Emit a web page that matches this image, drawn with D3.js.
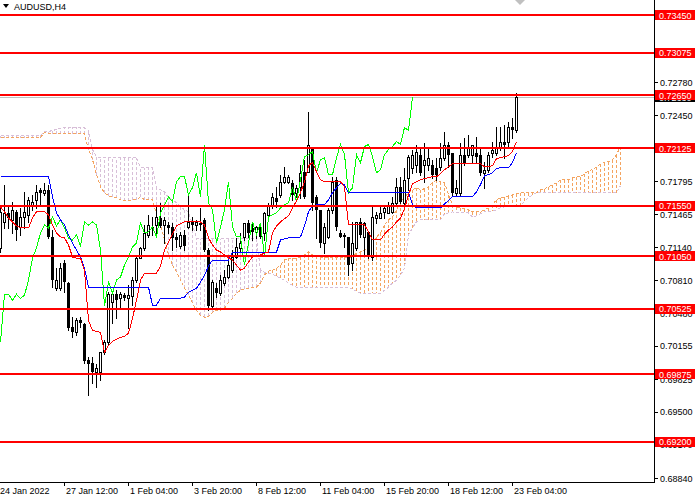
<!DOCTYPE html>
<html>
<head>
<meta charset="utf-8">
<script src="https://cdn.jsdelivr.net/npm/d3@7"></script>
<style>
  body { margin: 0; background: #fff; }
  svg { display: block; font-family: "Liberation Sans", Arial, sans-serif; }
</style>
</head>
<body>
<svg id="chart" width="700" height="500"></svg>
<script>
// AUDUSD H4 candles (one bar every 4 hours)
const opens = [0.7113,0.7139,0.7148,0.7141,0.7149,0.7134,0.7144,0.7146,0.7156,0.7161,
  0.7171,0.7168,0.7171,0.7124,0.7073,0.7073,0.7098,0.7078,0.7034,0.7029,
  0.7041,0.7037,0.7001,0.6999,0.6990,0.6990,0.7009,0.7019,0.7059,0.7067,
  0.7063,0.7066,0.7063,0.7065,0.7081,0.7103,0.7113,0.7126,0.7134,0.7136,
  0.7143,0.7136,0.7136,0.7134,0.7124,0.7115,0.7126,0.7134,0.7139,0.7136,
  0.7138,0.7141,0.7111,0.7055,0.7073,0.7068,0.7078,0.7084,0.7091,0.7104,
  0.7113,0.7124,0.7138,0.7133,0.7129,0.7134,0.7128,0.7146,0.7156,0.7163,
  0.7166,0.7179,0.7179,0.7178,0.7168,0.7174,0.7189,0.7189,0.7214,0.7164,
  0.7151,0.7118,0.7124,0.7151,0.7181,0.7128,0.7126,0.7124,0.7098,0.7113,
  0.7139,0.7124,0.7129,0.7104,0.7143,0.7143,0.7149,0.7148,0.7149,0.7158,
  0.7174,0.7158,0.7183,0.7193,0.7196,0.7206,0.7196,0.7196,0.7196,0.7193,
  0.7194,0.7203,0.7216,0.7208,0.7168,0.7168,0.7206,0.7206,0.7206,0.7208,
  0.7206,0.7188,0.7191,0.7208,0.7208,0.7214,0.7219,0.7219,0.7233,0.7230];
const highs = [0.7156,0.7176,0.7154,0.7159,0.7151,0.7153,0.7169,0.7164,0.7166,0.7176,
  0.7173,0.7178,0.7176,0.7131,0.7093,0.7098,0.7101,0.7079,0.7044,0.7043,
  0.7044,0.7038,0.7004,0.7004,0.6998,0.7009,0.7021,0.7069,0.7069,0.7071,
  0.7069,0.7068,0.7076,0.7084,0.7104,0.7114,0.7136,0.7146,0.7144,0.7154,
  0.7158,0.7144,0.7139,0.7138,0.7128,0.7129,0.7131,0.7168,0.7144,0.7141,
  0.7153,0.7143,0.7113,0.7081,0.7078,0.7086,0.7091,0.7103,0.7111,0.7123,
  0.7128,0.7138,0.7141,0.7139,0.7135,0.7136,0.7149,0.7158,0.7168,0.7174,
  0.7186,0.7194,0.7186,0.7181,0.7176,0.7196,0.7201,0.7248,0.7214,0.7166,
  0.7151,0.7138,0.7153,0.7184,0.7184,0.7131,0.7128,0.7124,0.7139,0.7139,
  0.7143,0.7139,0.7129,0.7154,0.7149,0.7156,0.7156,0.7159,0.7164,0.7183,
  0.7184,0.7193,0.7206,0.7211,0.7216,0.7214,0.7218,0.7214,0.7201,0.7203,
  0.7218,0.7229,0.7219,0.7208,0.7181,0.7218,0.7223,0.7226,0.7216,0.7224,
  0.7213,0.7199,0.7209,0.7219,0.7233,0.7233,0.7235,0.7238,0.7242,0.7267];
const lows = [0.7109,0.7133,0.7133,0.7128,0.7121,0.7126,0.7133,0.7139,0.7151,0.7153,
  0.7156,0.7166,0.7123,0.7074,0.7071,0.7071,0.7069,0.7031,0.7024,0.7026,
  0.7034,0.6999,0.6967,0.6979,0.6975,0.6982,0.7007,0.7017,0.7038,0.7043,
  0.7054,0.7061,0.7033,0.7056,0.7079,0.7103,0.7111,0.7124,0.7126,0.7124,
  0.7134,0.7118,0.7128,0.7111,0.7114,0.7113,0.7111,0.7133,0.7131,0.7131,
  0.7131,0.7110,0.7051,0.7053,0.7064,0.7066,0.7076,0.7083,0.7089,0.7103,
  0.7109,0.7121,0.7124,0.7121,0.7123,0.7123,0.7121,0.7143,0.7153,0.7154,
  0.7164,0.7178,0.7178,0.7161,0.7164,0.7163,0.7163,0.7189,0.7151,0.7123,
  0.7114,0.7108,0.7123,0.7148,0.7131,0.7124,0.7114,0.7086,0.7091,0.7111,
  0.7124,0.7106,0.7103,0.7101,0.7138,0.7143,0.7143,0.7148,0.7148,0.7156,
  0.7158,0.7156,0.7171,0.7188,0.7189,0.7186,0.7179,0.7191,0.7183,0.7181,
  0.7191,0.7201,0.7194,0.7166,0.7166,0.7166,0.7196,0.7204,0.7198,0.7199,
  0.7186,0.7173,0.7189,0.7204,0.7206,0.7211,0.7203,0.7214,0.7223,0.7229];
const closes = [0.7149,0.7148,0.7143,0.7151,0.7131,0.7144,0.7149,0.7161,0.7159,0.7169,
  0.7168,0.7171,0.7124,0.7081,0.7081,0.7093,0.7079,0.7033,0.7029,0.7041,
  0.7038,0.7000,0.6998,0.6990,0.6994,0.7009,0.7019,0.7067,0.7067,0.7061,
  0.7067,0.7063,0.7066,0.7081,0.7103,0.7113,0.7128,0.7136,0.7133,0.7144,
  0.7135,0.7141,0.7133,0.7123,0.7121,0.7126,0.7115,0.7139,0.7136,0.7139,
  0.7136,0.7111,0.7055,0.7079,0.7068,0.7081,0.7084,0.7096,0.7104,0.7114,
  0.7118,0.7138,0.7128,0.7129,0.7134,0.7124,0.7148,0.7156,0.7164,0.7159,
  0.7179,0.7184,0.7184,0.7166,0.7173,0.7188,0.7164,0.7216,0.7158,0.7151,
  0.7118,0.7134,0.7151,0.7179,0.7134,0.7124,0.7124,0.7096,0.7118,0.7139,
  0.7126,0.7138,0.7104,0.7144,0.7146,0.7148,0.7153,0.7156,0.7158,0.7174,
  0.7159,0.7181,0.7204,0.7206,0.7209,0.7188,0.7201,0.7203,0.7186,0.7186,
  0.7203,0.7216,0.7206,0.7168,0.7173,0.7206,0.7198,0.7214,0.7216,0.7204,
  0.7188,0.7191,0.7206,0.7211,0.7214,0.7219,0.7216,0.7233,0.7230,0.7263];

// Ichimoku lines, one value per bar
const tenkan = [0.7154,0.7149,0.7143,0.7139,0.7135,0.7133,0.7133,0.7133,0.7143,0.7149,
  0.7149,0.7149,0.7146,0.7136,0.7128,0.7124,0.7123,0.7116,0.7104,0.7103,
  0.7103,0.7091,0.7041,0.7031,0.7030,0.7029,0.7009,0.7016,0.7020,0.7022,
  0.7024,0.7025,0.7028,0.7043,0.7061,0.7081,0.7088,0.7088,0.7088,0.7088,
  0.7095,0.7111,0.7119,0.7127,0.7135,0.7137,0.7139,0.7139,0.7139,0.7139,
  0.7139,0.7136,0.7123,0.7116,0.7111,0.7109,0.7106,0.7103,0.7101,0.7096,
  0.7091,0.7093,0.7099,0.7104,0.7105,0.7106,0.7108,0.7109,0.7128,0.7135,
  0.7139,0.7142,0.7145,0.7153,0.7160,0.7168,0.7179,0.7195,0.7198,0.7189,
  0.7181,0.7179,0.7179,0.7179,0.7179,0.7179,0.7174,0.7136,0.7136,0.7136,
  0.7136,0.7136,0.7129,0.7121,0.7121,0.7121,0.7127,0.7131,0.7134,0.7139,
  0.7143,0.7152,0.7166,0.7177,0.7179,0.7181,0.7182,0.7183,0.7184,0.7184,
  0.7187,0.7191,0.7194,0.7197,0.7197,0.7197,0.7197,0.7197,0.7197,0.7197,
  0.7197,0.7194,0.7194,0.7195,0.7202,0.7203,0.7204,0.7205,0.7209,0.7219];
const kijun = [0.7184,0.7184,0.7184,0.7184,0.7184,0.7184,0.7184,0.7184,0.7184,0.7184,
  0.7184,0.7184,0.7184,0.7164,0.7148,0.7141,0.7136,0.7126,0.7118,0.7111,
  0.7104,0.7093,0.7074,0.7074,0.7074,0.7074,0.7074,0.7074,0.7074,0.7074,
  0.7074,0.7074,0.7074,0.7074,0.7074,0.7074,0.7074,0.7074,0.7056,0.7056,
  0.7063,0.7063,0.7063,0.7063,0.7063,0.7063,0.7064,0.7069,0.7071,0.7073,
  0.7079,0.7086,0.7095,0.7101,0.7101,0.7101,0.7101,0.7101,0.7109,0.7109,
  0.7109,0.7109,0.7109,0.7109,0.7109,0.7109,0.7109,0.7109,0.7109,0.7109,
  0.7121,0.7122,0.7123,0.7123,0.7123,0.7124,0.7135,0.7149,0.7155,0.7156,
  0.7156,0.7156,0.7161,0.7168,0.7173,0.7177,0.7176,0.7168,0.7168,0.7168,
  0.7168,0.7168,0.7168,0.7168,0.7168,0.7168,0.7168,0.7168,0.7168,0.7168,
  0.7168,0.7168,0.7168,0.7156,0.7153,0.7153,0.7153,0.7153,0.7153,0.7153,
  0.7153,0.7157,0.7160,0.7164,0.7164,0.7164,0.7164,0.7164,0.7164,0.7169,
  0.7176,0.7185,0.7186,0.7188,0.7192,0.7193,0.7193,0.7193,0.7198,0.7208];
// Senkou spans, plotted 26 bars ahead (156 positions)
const spanA = [0.7223,0.7223,0.7223,0.7223,0.7223,0.7223,0.7223,0.7223,0.7223,0.7223,
  0.7223,0.7228,0.7227,0.7227,0.7227,0.7227,0.7227,0.7227,0.7227,0.7227,
  0.7227,0.7227,0.7211,0.7201,0.7186,0.7174,0.7168,0.7165,0.7164,0.7163,
  0.7161,0.7160,0.7160,0.7161,0.7161,0.7164,0.7161,0.7161,0.7161,0.7146,
  0.7136,0.7121,0.7106,0.7096,0.7089,0.7081,0.7073,0.7066,0.7058,0.7051,
  0.7046,0.7044,0.7045,0.7049,0.7051,0.7051,0.7053,0.7059,0.7063,0.7068,
  0.7071,0.7072,0.7073,0.7074,0.7074,0.7078,0.7086,0.7090,0.7091,0.7093,
  0.7096,0.7101,0.7103,0.7103,0.7103,0.7104,0.7106,0.7109,0.7106,0.7105,
  0.7104,0.7104,0.7104,0.7104,0.7104,0.7104,0.7104,0.7104,0.7104,0.7108,
  0.7109,0.7111,0.7113,0.7119,0.7124,0.7128,0.7136,0.7141,0.7144,0.7151,
  0.7158,0.7163,0.7168,0.7171,0.7173,0.7171,0.7172,0.7174,0.7178,0.7181,
  0.7179,0.7178,0.7166,0.7156,0.7154,0.7153,0.7152,0.7151,0.7149,0.7149,
  0.7149,0.7151,0.7153,0.7156,0.7161,0.7163,0.7164,0.7165,0.7166,0.7167,
  0.7168,0.7168,0.7168,0.7168,0.7168,0.7171,0.7172,0.7174,0.7176,0.7178,
  0.7181,0.7181,0.7181,0.7183,0.7184,0.7184,0.7187,0.7190,0.7191,0.7194,
  0.7197,0.7198,0.7199,0.7201,0.7206,0.7214];
const spanB = [0.7225,0.7225,0.7225,0.7225,0.7225,0.7225,0.7225,0.7225,0.7225,0.7225,
  0.7225,0.7229,0.7229,0.7230,0.7231,0.7232,0.7233,0.7233,0.7233,0.7233,
  0.7233,0.7233,0.7230,0.7211,0.7204,0.7203,0.7203,0.7203,0.7203,0.7203,
  0.7203,0.7203,0.7203,0.7203,0.7203,0.7193,0.7193,0.7193,0.7193,0.7173,
  0.7171,0.7169,0.7163,0.7161,0.7158,0.7154,0.7151,0.7149,0.7136,0.7123,
  0.7122,0.7122,0.7122,0.7122,0.7122,0.7122,0.7122,0.7122,0.7122,0.7122,
  0.7122,0.7122,0.7122,0.7122,0.7122,0.7091,0.7089,0.7088,0.7087,0.7085,
  0.7083,0.7081,0.7078,0.7076,0.7074,0.7074,0.7074,0.7074,0.7074,0.7074,
  0.7074,0.7074,0.7074,0.7074,0.7074,0.7074,0.7074,0.7074,0.7072,0.7070,
  0.7068,0.7068,0.7068,0.7068,0.7068,0.7068,0.7071,0.7074,0.7078,0.7081,
  0.7086,0.7093,0.7126,0.7133,0.7139,0.7141,0.7141,0.7141,0.7141,0.7141,
  0.7141,0.7147,0.7148,0.7149,0.7148,0.7148,0.7148,0.7148,0.7144,0.7145,
  0.7147,0.7149,0.7149,0.7150,0.7151,0.7153,0.7154,0.7154,0.7154,0.7155,
  0.7156,0.7159,0.7163,0.7166,0.7168,0.7168,0.7168,0.7168,0.7168,0.7168,
  0.7168,0.7168,0.7168,0.7168,0.7168,0.7168,0.7168,0.7168,0.7168,0.7168,
  0.7168,0.7168,0.7168,0.7168,0.7168,0.7175];
const chikouShift = 26;

// Horizontal levels and axis labels
const levels = [0.73450, 0.73075, 0.72650, 0.72125, 0.71550, 0.71050, 0.70525, 0.69875, 0.69200];
const priceTicks = [0.68840, 0.69170, 0.69500, 0.69825, 0.70155, 0.70480, 0.70810,
  0.71140, 0.71465, 0.71795, 0.72120, 0.72450, 0.72780];
const timeLabels = ["24 Jan 2022", "27 Jan 12:00", "1 Feb 04:00", "3 Feb 20:00", "8 Feb 12:00",
  "11 Feb 04:00", "15 Feb 20:00", "18 Feb 12:00", "23 Feb 04:00"];
const timeLabelBars = [0, 16, 32, 48, 64, 80, 96, 112, 128];

const svg = d3.select("#chart");
const plotRight = 654;
const plotBottom = 482;
const fmt = d3.format(".5f");

// 4 px per bar
const x = d3.scaleLinear().domain([0, 1]).range([0.5, 4.5]);
const y = d3.scaleLinear().domain([0.68840, 0.73450]).range([478, 15]);

svg.append("rect").attr("width", 700).attr("height", 500).attr("fill", "#fff");

// Kumo hatch
const cloud = svg.append("g").attr("shape-rendering", "crispEdges");
cloud.selectAll("line.hatch")
  .data(spanA.map((a, j) => ({ j, a, b: spanB[j] })))
  .join("line")
  .attr("class", "hatch")
  .attr("x1", d => x(d.j)).attr("x2", d => x(d.j))
  .attr("y1", d => y(d.a)).attr("y2", d => y(d.b))
  .attr("stroke", d => (d.a >= d.b ? "#f4a460" : "#d8bfd8"))
  .attr("stroke-width", 1)
  .attr("stroke-dasharray", "3,2");

const spanLine = d3.line().x((d, j) => x(j)).y(d => y(d));
cloud.append("path").attr("d", spanLine(spanB)).attr("fill", "none")
  .attr("stroke", "#d8bfd8").attr("stroke-dasharray", "3,2");
cloud.append("path").attr("d", spanLine(spanA)).attr("fill", "none")
  .attr("stroke", "#f4a460").attr("stroke-dasharray", "3,2");

// bid line
const lastClose = closes[closes.length - 1];
svg.append("line")
  .attr("x1", 0).attr("x2", plotRight)
  .attr("y1", Math.round(y(lastClose)) + 0.5).attr("y2", Math.round(y(lastClose)) + 0.5)
  .attr("stroke", "#c0c0c0");

// Candles
const bars = closes.map((c, i) => ({ i, o: opens[i], h: highs[i], l: lows[i], c }));
const candles = svg.append("g").attr("shape-rendering", "crispEdges");
candles.selectAll("line.wick").data(bars).join("line")
  .attr("class", "wick")
  .attr("x1", d => x(d.i)).attr("x2", d => x(d.i))
  .attr("y1", d => Math.round(y(d.h))).attr("y2", d => Math.round(y(d.l)) + 1)
  .attr("stroke", "#000");
candles.selectAll("rect.body").data(bars).join("rect")
  .attr("class", "body")
  .each(function(d) {
    const top = Math.round(y(Math.max(d.o, d.c)));
    const bot = Math.round(y(Math.min(d.o, d.c)));
    const r = d3.select(this);
    if (d.c > d.o) {
      r.attr("x", x(d.i) - 1).attr("width", 2)
        .attr("y", top + 0.5).attr("height", Math.max(bot - top, 1))
        .attr("fill", "#fff").attr("stroke", "#000");
    } else {
      r.attr("x", x(d.i) - 1.5).attr("width", 3)
        .attr("y", top).attr("height", Math.max(bot - top, 1))
        .attr("fill", "#000");
    }
  });

// Ichimoku lines
const lines = svg.append("g").attr("fill", "none").attr("stroke-width", 1)
  .attr("shape-rendering", "crispEdges");
const line = d3.line().x((d, i) => x(i)).y(d => y(d));
lines.append("path").attr("d", line(closes.slice(chikouShift))).attr("stroke", "#00ff00");
lines.append("path").attr("d", line(kijun)).attr("stroke", "#0000ff");
lines.append("path").attr("d", line(tenkan)).attr("stroke", "#ff0000");

// Horizontal levels
svg.append("g").attr("shape-rendering", "crispEdges")
  .selectAll("line").data(levels).join("line")
  .attr("x1", 0).attr("x2", plotRight)
  .attr("y1", d => Math.round(y(d))).attr("y2", d => Math.round(y(d)))
  .attr("stroke", "#ff0000").attr("stroke-width", 2);

// Frame
const frame = svg.append("g").attr("shape-rendering", "crispEdges").attr("stroke", "#000");
frame.append("line").attr("x1", plotRight + 0.5).attr("x2", plotRight + 0.5)
  .attr("y1", 0).attr("y2", plotBottom + 0.5);
frame.append("line").attr("x1", 0).attr("x2", plotRight + 1)
  .attr("y1", plotBottom + 0.5).attr("y2", plotBottom + 0.5);

// Price axis
const yAxis = svg.append("g").attr("font-size", 9);
yAxis.selectAll("line").data(priceTicks).join("line")
  .attr("shape-rendering", "crispEdges")
  .attr("x1", plotRight).attr("x2", plotRight + 4)
  .attr("y1", d => Math.round(y(d)) + 0.5).attr("y2", d => Math.round(y(d)) + 0.5)
  .attr("stroke", "#000");
yAxis.selectAll("text").data(priceTicks).join("text")
  .attr("x", 660).attr("y", d => y(d) + 3.5)
  .attr("fill", "#000")
  .text(d => fmt(d));

// Time axis
const xAxis = svg.append("g").attr("font-size", 9);
xAxis.selectAll("line").data(timeLabelBars.slice(1)).join("line")
  .attr("shape-rendering", "crispEdges")
  .attr("x1", d => x(d)).attr("x2", d => x(d))
  .attr("y1", plotBottom).attr("y2", plotBottom + 4)
  .attr("stroke", "#000");
xAxis.selectAll("text").data(timeLabelBars).join("text")
  .attr("x", (d, k) => (k === 0 ? 0 : x(d) + 1.5))
  .attr("y", 494)
  .attr("fill", "#000")
  .text((d, k) => timeLabels[k]);

// Bid price label, mostly hidden under the level label
const tags = svg.append("g").attr("font-size", 9).attr("shape-rendering", "crispEdges");
tags.append("rect").attr("x", 655).attr("y", Math.round(y(lastClose)) - 5)
  .attr("width", 40).attr("height", 10).attr("fill", "#000");
tags.append("text").attr("x", 659).attr("y", y(lastClose) + 3.5)
  .attr("fill", "#fff").text(fmt(lastClose));

// Level labels
const levelTags = tags.selectAll("g.level").data(levels).join("g").attr("class", "level");
levelTags.append("rect")
  .attr("x", 655).attr("y", d => Math.round(y(d)) - 5)
  .attr("width", 40).attr("height", 10)
  .attr("fill", "#ff0000");
levelTags.append("text")
  .attr("x", 659).attr("y", d => y(d) + 3.5)
  .attr("fill", "#fff")
  .text(d => fmt(d));

// Title and shift marker
svg.append("path").attr("d", "M3,4 L9,4 L6,8 Z").attr("fill", "#000");
svg.append("text").attr("x", 14).attr("y", 10).attr("font-size", 9).attr("fill", "#000")
  .text("AUDUSD,H4");
svg.append("path").attr("d", "M515,0 L525,0 L520,5 Z").attr("fill", "#c0c0c0");
</script>
</body>
</html>
